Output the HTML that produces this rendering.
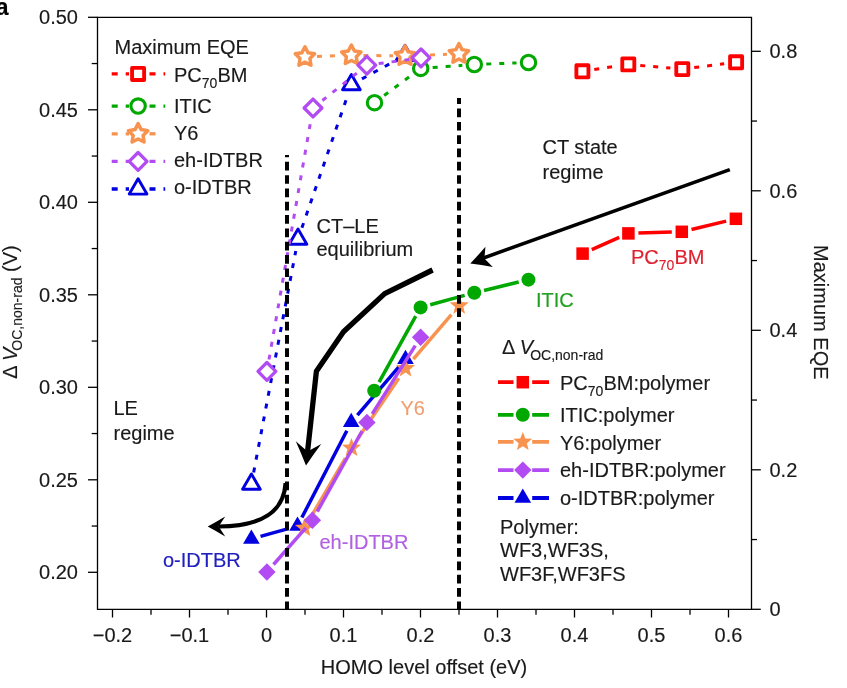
<!DOCTYPE html>
<html><head><meta charset="utf-8"><style>
html,body{margin:0;padding:0;background:#fff;width:847px;height:688px;overflow:hidden}
svg{display:block;will-change:transform}
text{stroke-width:0.15px}
</style></head><body>
<svg width="847" height="688" viewBox="0 0 847 688">
<rect width="847" height="688" fill="#fff"/>
<g stroke="#000" stroke-width="1.3" fill="none">
<path d="M97.5,17.3 H751.5 V609.3 H97.5 Z"/>
<path d="M88,17.30 H97.5"/>
<path d="M88,109.80 H97.5"/>
<path d="M88,202.30 H97.5"/>
<path d="M88,294.80 H97.5"/>
<path d="M88,387.30 H97.5"/>
<path d="M88,479.80 H97.5"/>
<path d="M88,572.30 H97.5"/>
<path d="M91.7,63.55 H97.5"/>
<path d="M91.7,156.05 H97.5"/>
<path d="M91.7,248.55 H97.5"/>
<path d="M91.7,341.05 H97.5"/>
<path d="M91.7,433.55 H97.5"/>
<path d="M91.7,526.05 H97.5"/>
<path d="M112.50,609.3 V617.5"/>
<path d="M189.50,609.3 V617.5"/>
<path d="M266.50,609.3 V617.5"/>
<path d="M343.50,609.3 V617.5"/>
<path d="M420.50,609.3 V617.5"/>
<path d="M497.50,609.3 V617.5"/>
<path d="M574.50,609.3 V617.5"/>
<path d="M651.50,609.3 V617.5"/>
<path d="M728.50,609.3 V617.5"/>
<path d="M151.00,609.3 V614.7"/>
<path d="M228.00,609.3 V614.7"/>
<path d="M305.00,609.3 V614.7"/>
<path d="M382.00,609.3 V614.7"/>
<path d="M459.00,609.3 V614.7"/>
<path d="M536.00,609.3 V614.7"/>
<path d="M613.00,609.3 V614.7"/>
<path d="M690.00,609.3 V614.7"/>
<path d="M751.5,609.30 H760.8"/>
<path d="M751.5,469.80 H760.8"/>
<path d="M751.5,330.30 H760.8"/>
<path d="M751.5,190.80 H760.8"/>
<path d="M751.5,51.30 H760.8"/>
<path d="M751.5,539.55 H757"/>
<path d="M751.5,400.05 H757"/>
<path d="M751.5,260.55 H757"/>
<path d="M751.5,121.05 H757"/>
</g>
<g font-family="Liberation Sans, sans-serif" font-size="20" fill="#1a1a1a" stroke="#1a1a1a">
<text x="78" y="24.40" text-anchor="end">0.50</text>
<text x="78" y="116.90" text-anchor="end">0.45</text>
<text x="78" y="209.40" text-anchor="end">0.40</text>
<text x="78" y="301.90" text-anchor="end">0.35</text>
<text x="78" y="394.40" text-anchor="end">0.30</text>
<text x="78" y="486.90" text-anchor="end">0.25</text>
<text x="78" y="579.40" text-anchor="end">0.20</text>
<text x="112.50" y="642.2" text-anchor="middle">−0.2</text>
<text x="189.50" y="642.2" text-anchor="middle">−0.1</text>
<text x="266.50" y="642.2" text-anchor="middle">0</text>
<text x="343.50" y="642.2" text-anchor="middle">0.1</text>
<text x="420.50" y="642.2" text-anchor="middle">0.2</text>
<text x="497.50" y="642.2" text-anchor="middle">0.3</text>
<text x="574.50" y="642.2" text-anchor="middle">0.4</text>
<text x="651.50" y="642.2" text-anchor="middle">0.5</text>
<text x="728.50" y="642.2" text-anchor="middle">0.6</text>
<text x="769.5" y="616.30">0</text>
<text x="769.5" y="476.80">0.2</text>
<text x="769.5" y="337.30">0.4</text>
<text x="769.5" y="197.80">0.6</text>
<text x="769.5" y="58.30">0.8</text>
</g>
<text font-family="Liberation Sans, sans-serif" font-size="20" fill="#1a1a1a" x="424" y="673.8" text-anchor="middle" stroke="#1a1a1a">HOMO level offset (eV)</text>
<text font-family="Liberation Sans, sans-serif" font-size="20" fill="#1a1a1a" transform="translate(814.1,312.3) rotate(90)" text-anchor="middle" stroke="#1a1a1a">Maximum EQE</text>
<g transform="translate(17.4,378.8) rotate(-90)"><text font-family="Liberation Sans, sans-serif" font-size="20" fill="#1a1a1a" x="0" y="0" stroke="#1a1a1a">Δ <tspan font-style="italic">V</tspan><tspan font-size="14" dy="5" dx="-3">OC,non-rad</tspan><tspan dy="-5"> (V)</tspan></text></g>
<text font-family="Liberation Sans, sans-serif" font-weight="bold" font-size="23" fill="#000" x="-4.3" y="14.6" stroke="#000">a</text>
<path d="M594.27,69.52 L616.43,66.18" stroke="#ff0000" stroke-width="3" fill="none" stroke-dasharray="5 8"/><path d="M640.25,65.44 L670.35,68.06" stroke="#ff0000" stroke-width="3" fill="none" stroke-dasharray="5 8"/><path d="M694.21,67.60 L724.19,63.80" stroke="#ff0000" stroke-width="3" fill="none" stroke-dasharray="5 8"/>
<rect x="576.38" y="65.27" width="12.05" height="12.05" fill="#fff" stroke="#ff0000" stroke-width="3.85" stroke-linejoin="round"/>
<rect x="622.27" y="58.38" width="12.05" height="12.05" fill="#fff" stroke="#ff0000" stroke-width="3.85" stroke-linejoin="round"/>
<rect x="676.27" y="63.07" width="12.05" height="12.05" fill="#fff" stroke="#ff0000" stroke-width="3.85" stroke-linejoin="round"/>
<rect x="730.08" y="56.27" width="12.05" height="12.05" fill="#fff" stroke="#ff0000" stroke-width="3.85" stroke-linejoin="round"/>
<path d="M253.64,472.41 L295.76,250.99" stroke="#0000e0" stroke-width="3" fill="none" stroke-dasharray="5 8"/><path d="M301.92,227.86 L347.48,95.94" stroke="#0000e0" stroke-width="3" fill="none" stroke-dasharray="5 8"/><path d="M361.95,78.87 L394.45,61.23" stroke="#0000e0" stroke-width="3" fill="none" stroke-dasharray="5 8"/>
<polygon points="251.4,474.00 260.25,489.30 242.55,489.30" fill="#fff" stroke="#0000e0" stroke-width="2.9" stroke-linejoin="round"/>
<polygon points="298,229.00 306.85,244.30 289.15,244.30" fill="#fff" stroke="#0000e0" stroke-width="2.9" stroke-linejoin="round"/>
<polygon points="351.4,74.40 360.25,89.70 342.55,89.70" fill="#fff" stroke="#0000e0" stroke-width="2.9" stroke-linejoin="round"/>
<polygon points="405,45.30 413.85,60.60 396.15,60.60" fill="#fff" stroke="#0000e0" stroke-width="2.9" stroke-linejoin="round"/>
<path d="M384.14,95.50 L411.06,75.55" stroke="#00a800" stroke-width="3" fill="none" stroke-dasharray="5 8"/><path d="M432.67,67.53 L462.33,65.37" stroke="#00a800" stroke-width="3" fill="none" stroke-dasharray="5 8"/><path d="M486.29,64.06 L516.51,62.94" stroke="#00a800" stroke-width="3" fill="none" stroke-dasharray="5 8"/>
<circle cx="374.5" cy="102.65" r="7.2" fill="#fff" stroke="#00a800" stroke-width="3.1"/>
<circle cx="420.7" cy="68.4" r="7.2" fill="#fff" stroke="#00a800" stroke-width="3.1"/>
<circle cx="474.3" cy="64.5" r="7.2" fill="#fff" stroke="#00a800" stroke-width="3.1"/>
<circle cx="528.5" cy="62.5" r="7.2" fill="#fff" stroke="#00a800" stroke-width="3.1"/>
<path d="M316.94,56.51 L339.36,55.69" stroke="#f7934f" stroke-width="3" fill="none" stroke-dasharray="5 8"/><path d="M363.35,55.41 L393.00,55.79" stroke="#f7934f" stroke-width="3" fill="none" stroke-dasharray="5 8"/><path d="M416.99,55.48 L446.96,54.32" stroke="#f7934f" stroke-width="3" fill="none" stroke-dasharray="5 8"/>
<polygon points="304.95,46.75 308.01,52.74 314.65,53.80 309.90,58.56 310.95,65.20 304.95,62.15 298.95,65.20 300.00,58.56 295.25,53.80 301.89,52.74" fill="#fff" stroke="#f7934f" stroke-width="3.5" stroke-linejoin="round"/>
<polygon points="351.35,45.05 354.41,51.04 361.05,52.10 356.30,56.86 357.35,63.50 351.35,60.45 345.35,63.50 346.40,56.86 341.65,52.10 348.29,51.04" fill="#fff" stroke="#f7934f" stroke-width="3.5" stroke-linejoin="round"/>
<polygon points="405.00,45.75 408.06,51.74 414.70,52.80 409.95,57.56 411.00,64.20 405.00,61.15 399.00,64.20 400.05,57.56 395.30,52.80 401.94,51.74" fill="#fff" stroke="#f7934f" stroke-width="3.5" stroke-linejoin="round"/>
<polygon points="458.95,43.65 462.01,49.64 468.65,50.70 463.90,55.46 464.95,62.10 458.95,59.05 452.95,62.10 454.00,55.46 449.25,50.70 455.89,49.64" fill="#fff" stroke="#f7934f" stroke-width="3.5" stroke-linejoin="round"/>
<path d="M268.97,359.58 L310.93,119.82" stroke="#b24cf2" stroke-width="3" fill="none" stroke-dasharray="5 8"/><path d="M322.39,100.53 L357.41,72.67" stroke="#b24cf2" stroke-width="3" fill="none" stroke-dasharray="5 8"/><path d="M378.69,63.60 L409.11,59.50" stroke="#b24cf2" stroke-width="3" fill="none" stroke-dasharray="5 8"/>
<polygon points="266.9,362.5 275.79999999999995,371.4 266.9,380.29999999999995 258.0,371.4" fill="#fff" stroke="#b24cf2" stroke-width="3.3" stroke-linejoin="round"/>
<polygon points="313,99.1 321.9,108 313,116.9 304.1,108" fill="#fff" stroke="#b24cf2" stroke-width="3.3" stroke-linejoin="round"/>
<polygon points="366.8,56.300000000000004 375.7,65.2 366.8,74.10000000000001 357.90000000000003,65.2" fill="#fff" stroke="#b24cf2" stroke-width="3.3" stroke-linejoin="round"/>
<polygon points="421,49.0 429.9,57.9 421,66.8 412.1,57.9" fill="#fff" stroke="#b24cf2" stroke-width="3.3" stroke-linejoin="round"/>
<path d="M591.75,249.56 L619.25,237.44" stroke="#ff0000" stroke-width="3.5" fill="none"/><path d="M638.40,233.10 L671.80,232.10" stroke="#ff0000" stroke-width="3.5" fill="none"/><path d="M691.52,229.46 L726.18,221.14" stroke="#ff0000" stroke-width="3.5" fill="none"/>
<rect x="576.35" y="247.35" width="12.50" height="12.50" fill="#ff0000"/>
<rect x="622.15" y="227.15" width="12.50" height="12.50" fill="#ff0000"/>
<rect x="675.55" y="225.55" width="12.50" height="12.50" fill="#ff0000"/>
<rect x="729.65" y="212.55" width="12.50" height="12.50" fill="#ff0000"/>
<path d="M260.54,536.42 L288.36,528.58" stroke="#0000e0" stroke-width="3.5" fill="none"/><path d="M301.87,517.56 L346.83,430.74" stroke="#0000e0" stroke-width="3.5" fill="none"/><path d="M357.40,415.10 L399.30,366.40" stroke="#0000e0" stroke-width="3.5" fill="none"/>
<polygon points="251.4,529.53 259.70,543.73 243.10,543.73" fill="#0000e0"/>
<polygon points="297.5,516.53 305.80,530.73 289.20,530.73" fill="#0000e0"/>
<polygon points="351.2,412.83 359.50,427.03 342.90,427.03" fill="#0000e0"/>
<polygon points="405.5,349.73 413.80,363.93 397.20,363.93" fill="#0000e0"/>
<path d="M379.06,382.06 L415.74,316.14" stroke="#00a800" stroke-width="3.5" fill="none"/><path d="M430.25,304.78 L464.65,295.42" stroke="#00a800" stroke-width="3.5" fill="none"/><path d="M484.02,290.44 L518.73,282.01" stroke="#00a800" stroke-width="3.5" fill="none"/>
<circle cx="374.2" cy="390.8" r="7.00" fill="#00a800"/>
<circle cx="420.6" cy="307.4" r="7.00" fill="#00a800"/>
<circle cx="474.3" cy="292.8" r="7.00" fill="#00a800"/>
<circle cx="528.45" cy="279.65" r="7.00" fill="#00a800"/>
<path d="M310.57,517.65 L345.43,458.25" stroke="#f7934f" stroke-width="3.5" fill="none"/><path d="M358.24,437.97 L398.76,378.23" stroke="#f7934f" stroke-width="3.5" fill="none"/><path d="M413.31,359.19 L451.39,314.71" stroke="#f7934f" stroke-width="3.5" fill="none"/>
<polygon points="304.50,518.00 307.03,524.52 314.01,524.91 308.59,529.33 310.38,536.09 304.50,532.30 298.62,536.09 300.41,529.33 294.99,524.91 301.97,524.52" fill="#f7934f"/>
<polygon points="351.50,437.90 354.03,444.42 361.01,444.81 355.59,449.23 357.38,455.99 351.50,452.20 345.62,455.99 347.41,449.23 341.99,444.81 348.97,444.42" fill="#f7934f"/>
<polygon points="405.50,358.30 408.03,364.82 415.01,365.21 409.59,369.63 411.38,376.39 405.50,372.60 399.62,376.39 401.41,369.63 395.99,365.21 402.97,364.82" fill="#f7934f"/>
<polygon points="459.20,295.60 461.73,302.12 468.71,302.51 463.29,306.93 465.08,313.69 459.20,309.90 453.32,313.69 455.11,306.93 449.69,302.51 456.67,302.12" fill="#f7934f"/>
<path d="M273.51,564.49 L305.79,527.81" stroke="#b24cf2" stroke-width="3.5" fill="none"/><path d="M317.26,511.56 L362.04,431.14" stroke="#b24cf2" stroke-width="3.5" fill="none"/><path d="M372.23,413.94 L415.27,345.66" stroke="#b24cf2" stroke-width="3.5" fill="none"/>
<polygon points="266.9,563.3 275.59999999999997,572 266.9,580.7 258.2,572" fill="#b24cf2"/>
<polygon points="312.4,511.59999999999997 321.09999999999997,520.3 312.4,529.0 303.7,520.3" fill="#b24cf2"/>
<polygon points="366.9,413.7 375.59999999999997,422.4 366.9,431.09999999999997 358.2,422.4" fill="#b24cf2"/>
<polygon points="420.6,328.5 429.3,337.2 420.6,345.9 411.90000000000003,337.2" fill="#b24cf2"/>
<path d="M432.6,270.0 L384.7,293.6 L343.5,331.8 L316.4,371.2 L307.5,452" stroke="#000" stroke-width="5.3" fill="none" stroke-linejoin="round"/>
<path d="M306.00,465.40 Q301.20,453.30 295.80,441.13 L307.54,451.48 L321.25,443.94 Q313.33,454.64 306.00,465.40 Z" fill="#000"/>
<path d="M285.6,483 C284,510 265,526 219,526.5" stroke="#000" stroke-width="4.2" fill="none"/>
<path d="M207.70,526.40 Q216.45,521.70 225.20,516.40 L218.70,526.40 L225.20,536.40 Q216.45,531.10 207.70,526.40 Z" fill="#000"/>
<path d="M729.8,169.6 L482,258.5" stroke="#000" stroke-width="3.5" fill="none"/>
<path d="M470.30,263.60 Q477.97,255.40 485.43,246.63 L484.40,258.49 L492.78,266.94 Q481.44,264.99 470.30,263.60 Z" fill="#000"/>
<path d="M287,609.3 V155" stroke="#000" stroke-width="4" stroke-dasharray="8.7 4.62" stroke-dashoffset="0.8" fill="none"/>
<path d="M459,609.3 V98" stroke="#000" stroke-width="4" stroke-dasharray="8.7 4.62" stroke-dashoffset="0.8" fill="none"/>
<g font-family="Liberation Sans, sans-serif" font-size="20" fill="#1a1a1a" stroke="#1a1a1a">
<text x="542.5" y="153.8">CT state</text><text x="542.5" y="178.7">regime</text>
<text x="316.5" y="232.8">CT–LE</text><text x="316.5" y="256.3">equilibrium</text>
<text x="113.5" y="414.8">LE</text><text x="113.5" y="439.6">regime</text>
<text x="114.5" y="54.2">Maximum EQE</text>
</g>
<g font-family="Liberation Sans, sans-serif" font-size="20">
<text x="536" y="307.4" fill="#22a022" stroke="#22a022">ITIC</text>
<text x="400.5" y="414.7" fill="#f0a070" stroke="#f0a070">Y6</text>
<text x="319.5" y="548.8" fill="#b060e0" stroke="#b060e0">eh-IDTBR</text>
<text x="163" y="566.9" fill="#2020c0" stroke="#2020c0">o-IDTBR</text>
<text x="631" y="263.9" fill="#e02030" stroke="#e02030">PC<tspan font-size="14" dy="6">70</tspan><tspan dy="-6">BM</tspan></text>
</g>
<path d="M111.7,73.95 H129" stroke="#ff0000" stroke-width="3.3" stroke-dasharray="6 8" fill="none"/>
<path d="M149.5,73.95 H165.2" stroke="#ff0000" stroke-width="3.3" stroke-dasharray="6 8" fill="none"/>
<rect x="132.07" y="67.92" width="12.05" height="12.05" fill="#fff" stroke="#ff0000" stroke-width="3.85" stroke-linejoin="round"/>
<text font-family="Liberation Sans, sans-serif" font-size="20" fill="#1a1a1a" x="174" y="82" stroke="#1a1a1a">PC<tspan font-size="14" dy="6">70</tspan><tspan dy="-6">BM</tspan></text>
<path d="M111.7,106.05 H129" stroke="#00a800" stroke-width="3.3" stroke-dasharray="6 8" fill="none"/>
<path d="M149.5,106.05 H165.2" stroke="#00a800" stroke-width="3.3" stroke-dasharray="6 8" fill="none"/>
<circle cx="138.1" cy="106.05" r="7.2" fill="#fff" stroke="#00a800" stroke-width="3.1"/>
<text font-family="Liberation Sans, sans-serif" font-size="20" fill="#1a1a1a" x="174" y="113.1" stroke="#1a1a1a">ITIC</text>
<path d="M111.7,133.8 H129" stroke="#f7934f" stroke-width="3.3" stroke-dasharray="6 8" fill="none"/>
<path d="M149.5,133.8 H158" stroke="#f7934f" stroke-width="3.3" stroke-dasharray="6 8" fill="none"/>
<polygon points="138.10,123.60 141.16,129.59 147.80,130.65 143.05,135.41 144.10,142.05 138.10,139.00 132.10,142.05 133.15,135.41 128.40,130.65 135.04,129.59" fill="#fff" stroke="#f7934f" stroke-width="3.5" stroke-linejoin="round"/>
<text font-family="Liberation Sans, sans-serif" font-size="20" fill="#1a1a1a" x="174" y="140.2" stroke="#1a1a1a">Y6</text>
<path d="M111.7,161.4 H129" stroke="#b24cf2" stroke-width="3.3" stroke-dasharray="6 8" fill="none"/>
<path d="M149.5,161.4 H165.2" stroke="#b24cf2" stroke-width="3.3" stroke-dasharray="6 8" fill="none"/>
<polygon points="138.1,152.5 147.0,161.4 138.1,170.3 129.2,161.4" fill="#fff" stroke="#b24cf2" stroke-width="3.3" stroke-linejoin="round"/>
<text font-family="Liberation Sans, sans-serif" font-size="20" fill="#1a1a1a" x="174" y="167" stroke="#1a1a1a">eh-IDTBR</text>
<path d="M111.7,189 H129" stroke="#0000e0" stroke-width="3.3" stroke-dasharray="6 8" fill="none"/>
<path d="M149.5,189 H165.2" stroke="#0000e0" stroke-width="3.3" stroke-dasharray="6 8" fill="none"/>
<polygon points="138.1,178.80 146.95,194.10 129.25,194.10" fill="#fff" stroke="#0000e0" stroke-width="2.9" stroke-linejoin="round"/>
<text font-family="Liberation Sans, sans-serif" font-size="20" fill="#1a1a1a" x="174" y="194" stroke="#1a1a1a">o-IDTBR</text>
<text font-family="Liberation Sans, sans-serif" font-size="20" fill="#1a1a1a" x="502" y="353.8" stroke="#1a1a1a">Δ <tspan font-style="italic">V</tspan><tspan font-size="14" dy="5.7" dx="-3">OC,non-rad</tspan></text>
<path d="M498,382.2 H513.5 M532.2,382.2 H549" stroke="#ff0000" stroke-width="3.8" fill="none"/>
<rect x="516.55" y="375.95" width="12.50" height="12.50" fill="#ff0000"/>
<text font-family="Liberation Sans, sans-serif" font-size="20" fill="#1a1a1a" x="560" y="389.6" stroke="#1a1a1a">PC<tspan font-size="14" dy="6">70</tspan><tspan dy="-6">BM:polymer</tspan></text>
<path d="M498,414.8 H513.5 M532.2,414.8 H549" stroke="#00a800" stroke-width="3.8" fill="none"/>
<circle cx="522.8" cy="414.8" r="7.00" fill="#00a800"/>
<text font-family="Liberation Sans, sans-serif" font-size="20" fill="#1a1a1a" x="560" y="422.4" stroke="#1a1a1a">ITIC:polymer</text>
<path d="M498,441.9 H513.5 M532.2,441.9 H549" stroke="#f7934f" stroke-width="3.8" fill="none"/>
<polygon points="522.80,431.90 525.33,438.42 532.31,438.81 526.89,443.23 528.68,449.99 522.80,446.20 516.92,449.99 518.71,443.23 513.29,438.81 520.27,438.42" fill="#f7934f"/>
<text font-family="Liberation Sans, sans-serif" font-size="20" fill="#1a1a1a" x="560" y="450.1" stroke="#1a1a1a">Y6:polymer</text>
<path d="M498,470.1 H513.5 M532.2,470.1 H549" stroke="#b24cf2" stroke-width="3.8" fill="none"/>
<polygon points="522.8,461.40000000000003 531.5,470.1 522.8,478.8 514.0999999999999,470.1" fill="#b24cf2"/>
<text font-family="Liberation Sans, sans-serif" font-size="20" fill="#1a1a1a" x="560" y="477" stroke="#1a1a1a">eh-IDTBR:polymer</text>
<path d="M498,498 H513.5 M532.2,498 H549" stroke="#0000e0" stroke-width="3.8" fill="none"/>
<polygon points="522.8,488.53 531.10,502.73 514.50,502.73" fill="#0000e0"/>
<text font-family="Liberation Sans, sans-serif" font-size="20" fill="#1a1a1a" x="560" y="504.7" stroke="#1a1a1a">o-IDTBR:polymer</text>
<g font-family="Liberation Sans, sans-serif" font-size="20" fill="#1a1a1a" stroke="#1a1a1a"><text x="500" y="533.6">Polymer:</text><text x="500" y="557.4">WF3,WF3S,</text><text x="500" y="581.2">WF3F,WF3FS</text></g>
</svg></body></html>
